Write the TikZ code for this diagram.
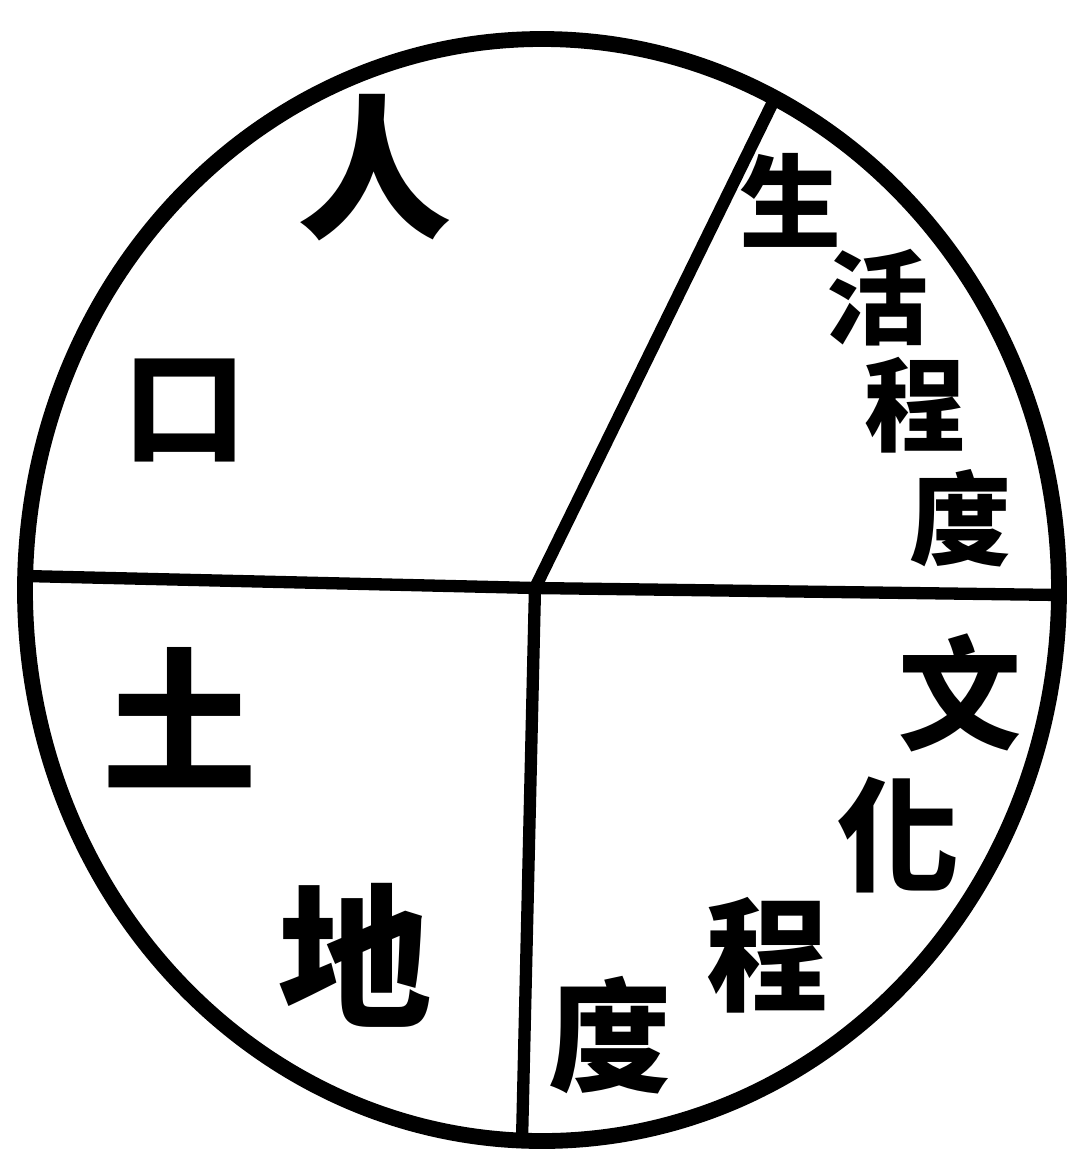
\documentclass[tikz,border=0pt]{standalone}
\usepackage{fontspec}
\newfontfamily\cjk{Noto Sans CJK TC}
\begin{document}
\begin{tikzpicture}[x=0.02cm,y=-0.02cm,
  rim/.style={line width=9pt},
  divider/.style={line width=7pt},
  smallglyph/.style={font=\cjk\fontsize{58}{58}\selectfont\bfseries, inner sep=0pt},
  glyph/.style={font=\cjk\fontsize{70}{70}\selectfont\bfseries, inner sep=0pt},
  bigglyph/.style={font=\cjk\fontsize{88}{88}\selectfont\bfseries, inner sep=0pt}]
\useasboundingbox (0,0) rectangle (1081,1157);
\draw[rim] (542,590) ellipse [x radius=517, y radius=551];
\coordinate (c) at (535,588);
\coordinate (L) at (25,576);
\coordinate (R) at (1060,595);
\coordinate (B) at (522,1141);
\coordinate (T) at (773,102);
\draw[divider] (L) -- (c) -- (R);
\draw[divider] (c) -- (B);
\draw[divider] (c) -- (T);
\node[bigglyph] (ren) at (375,168) {人};
\node[glyph] (kou) at (185,410) {口};
\node[smallglyph] (sheng) at (790,200) {生};
\node[smallglyph] (huo) at (877,298) {活};
\node[smallglyph] (cheng1) at (915,405) {程};
\node[smallglyph] (du1) at (960,518) {度};
\node[bigglyph] (tu) at (180,718) {土};
\node[bigglyph] (di) at (355,955) {地};
\node[glyph] (wen) at (960,693) {文};
\node[glyph] (hua) at (898,835) {化};
\node[glyph] (cheng2) at (768,955) {程};
\node[glyph] (du2) at (610,1035) {度};
\end{tikzpicture}
\end{document}
